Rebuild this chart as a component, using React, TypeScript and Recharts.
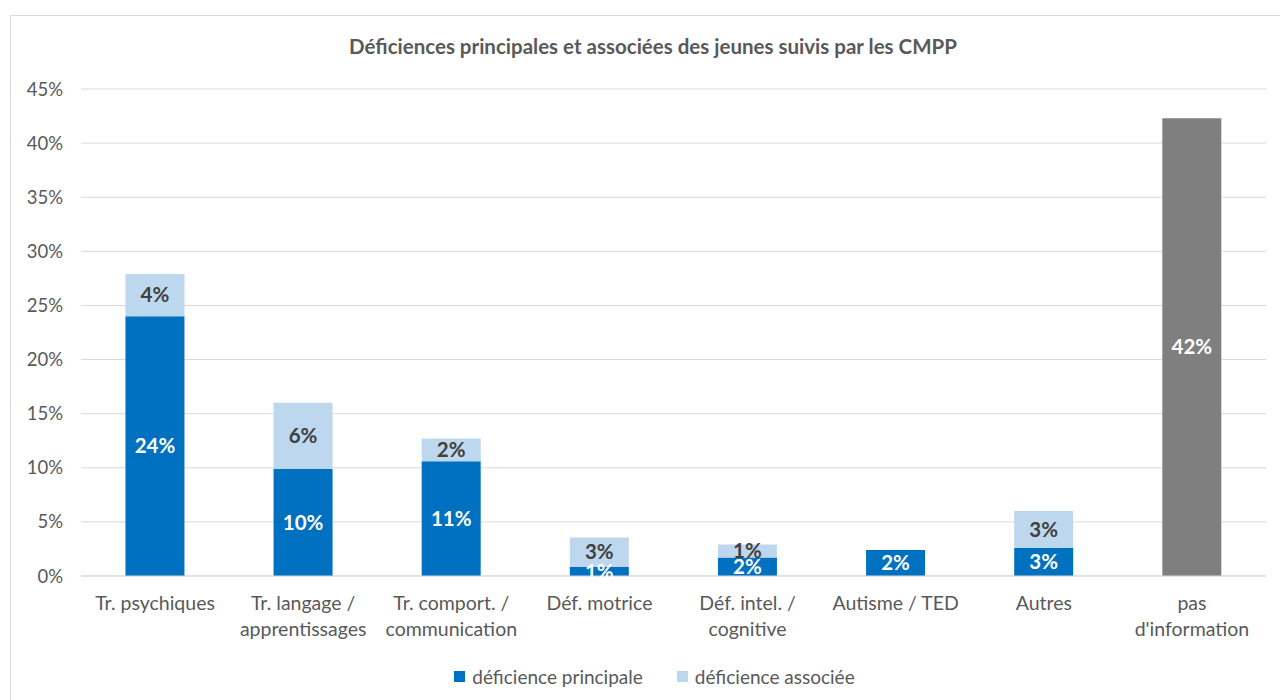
import React from 'react';
import {
  BarChart,
  Bar,
  XAxis,
  YAxis,
  CartesianGrid,
  Legend,
  LabelList,
} from 'recharts';

const categories = [
  'Tr. psychiques',
  'Tr. langage /\napprentissages',
  'Tr. comport. /\ncommunication',
  'Déf. motrice',
  'Déf. intel. /\ncognitive',
  'Autisme / TED',
  'Autres',
  'pas\nd\'information',
];
const principale = [24, 9.9, 10.6, 0.85, 1.7, 2.4, 2.6, 0];
const associee = [3.9, 6.1, 2.1, 2.7, 1.2, 0, 3.4, 0];
const sansInfo = [0, 0, 0, 0, 0, 0, 0, 42.3];
const yTicks = [0, 5, 10, 15, 20, 25, 30, 35, 40, 45];
const legendOrder = ['principale', 'associee'];

const data = categories.map((name, i) => ({
  name,
  principale: principale[i],
  associee: associee[i],
  sansInfo: sansInfo[i],
}));

const FONT = 'Lato, "Liberation Sans", sans-serif';
const pct = (v: any) => (v ? `${Math.round(Number(v))}%` : '');

function CategoryTick(props: any) {
  const { x, y, payload } = props;
  const lines = String(payload.value).split('\n');
  return (
    <text x={x} y={y} textAnchor="middle" fill="#595959" fontSize={19.5} fontFamily={FONT}>
      {lines.map((l, i) => (
        <tspan key={i} x={x} dy={26}>
          {l}
        </tspan>
      ))}
    </text>
  );
}

function LegendContent(props: any) {
  const items = (props.payload || [])
    .filter((p: any) => legendOrder.includes(p.dataKey))
    .sort((a: any, b: any) => legendOrder.indexOf(a.dataKey) - legendOrder.indexOf(b.dataKey));
  return (
    <div style={{ display: 'flex', justifyContent: 'center', paddingLeft: 32 }}>
      {items.map((p: any, i: number) => (
        <div key={p.dataKey} style={{ display: 'flex', alignItems: 'center', marginLeft: i ? 34 : 0 }}>
          <span style={{ width: 11, height: 11, background: p.color, marginRight: 7, display: 'inline-block' }} />
          <span style={{ color: '#595959', fontSize: 19, fontFamily: FONT }}>{p.value}</span>
        </div>
      ))}
    </div>
  );
}

export default function App() {
  return (
    <div
      style={{
        position: 'fixed',
        left: 10,
        top: 15,
        width: 1300,
        height: 720,
        border: '1px solid #D9D9D9',
        background: '#fff',
        fontFamily: FONT,
      }}
    >
      <div
        style={{
          position: 'absolute',
          top: 18,
          left: 0,
          width: 1284,
          textAlign: 'center',
          fontSize: 20.5,
          fontWeight: 700,
          color: '#595959',
        }}
      >
        Déficiences principales et associées des jeunes suivis par les CMPP
      </div>
      <BarChart
        width={1269}
        height={684}
        data={data}
        margin={{ top: 73, right: 14, left: 0, bottom: 12 }}
        barCategoryGap="30%"
      >
        <CartesianGrid vertical={false} stroke="#D9D9D9" />
        <XAxis
          dataKey="name"
          tick={<CategoryTick />}
          tickLine={false}
          axisLine={{ stroke: '#D9D9D9' }}
          interval={0}
          height={89}
        />
        <YAxis
          domain={[0, 45]}
          ticks={yTicks}
          tickFormatter={(v) => `${v}%`}
          tick={{ fill: '#595959', fontSize: 18.5, fontFamily: FONT }}
          tickLine={false}
          axisLine={false}
          tickMargin={12}
          width={70}
        />
        <Legend verticalAlign="bottom" content={<LegendContent />} />
        <Bar dataKey="principale" name="déficience principale" stackId="a" fill="#0070C0" isAnimationActive={false}>
          <LabelList dataKey="principale" position="center" formatter={pct} fill="#fff" fontSize={20.5} fontWeight={700} fontFamily={FONT} />
        </Bar>
        <Bar dataKey="associee" name="déficience associée" stackId="a" fill="#BDD7EE" isAnimationActive={false}>
          <LabelList dataKey="associee" position="center" formatter={pct} fill="#404040" fontSize={20.5} fontWeight={700} fontFamily={FONT} />
        </Bar>
        <Bar dataKey="sansInfo" name="pas d'information" stackId="a" fill="#7F7F7F" legendType="none" isAnimationActive={false}>
          <LabelList dataKey="sansInfo" position="center" formatter={pct} fill="#fff" fontSize={20.5} fontWeight={700} fontFamily={FONT} />
        </Bar>
      </BarChart>
    </div>
  );
}
